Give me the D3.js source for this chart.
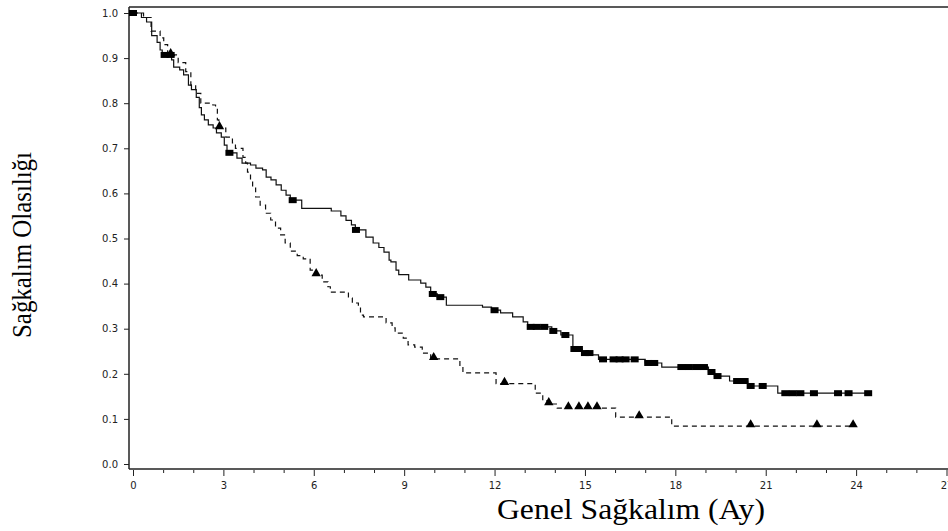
<!DOCTYPE html>
<html>
<head>
<meta charset="utf-8">
<script src="https://cdn.jsdelivr.net/npm/d3@7"></script>
<style>
  body { margin: 0; background: #fff; }
  svg { display: block; }
  .tick text { font-family: "DejaVu Sans", sans-serif; font-size: 10px; fill: #222; }
  .title { font-family: "Liberation Serif", "Times New Roman", serif; fill: #000; }
</style>
</head>
<body>
<div class="plot"></div>
<script>
// group 1 (solid, squares): step times and survival after each step
const g1Time = [0.28, 0.45, 0.62, 0.8, 0.9, 0.97, 1.28, 1.35, 1.55, 1.68, 1.84, 1.94, 2.1, 2.2, 2.27, 2.37, 2.5, 2.66, 2.77, 2.93,
  3.03, 3.12, 3.45, 3.62, 3.9, 4.08, 4.3, 4.42, 4.58, 4.75, 4.92, 5.08, 5.22, 5.6, 6.58, 6.9, 7.07, 7.25, 7.38, 7.73,
  7.97, 8.16, 8.33, 8.5, 8.56, 8.73, 8.82, 9.15, 9.55, 9.72, 9.88, 10.1, 10.4, 11.6, 11.9, 12.2, 12.6, 12.95, 13.1, 13.9,
  14.2, 14.6, 14.9, 15.2, 15.45, 17.0, 17.55, 19.1, 19.3, 19.8, 20.4, 21.4]
const g1Surv = [0.99, 0.98, 0.95, 0.935, 0.918, 0.907, 0.896, 0.88, 0.874, 0.863, 0.84, 0.83, 0.813, 0.79, 0.774, 0.763, 0.752, 0.745, 0.734, 0.725,
  0.707, 0.69, 0.678, 0.667, 0.663, 0.656, 0.652, 0.636, 0.63, 0.619, 0.607, 0.596, 0.585, 0.567, 0.561, 0.55, 0.54, 0.53, 0.519, 0.503,
  0.49, 0.48, 0.47, 0.452, 0.448, 0.43, 0.42, 0.408, 0.401, 0.392, 0.377, 0.37, 0.352, 0.348, 0.341, 0.335, 0.326, 0.315, 0.304, 0.295,
  0.286, 0.255, 0.246, 0.242, 0.232, 0.224, 0.215, 0.204, 0.195, 0.184, 0.173, 0.157]
const g1End = 24.5
const g1Censor = [0, 1.05, 1.25, 3.2, 5.3, 7.4, 9.95, 10.2, 12.0, 13.2, 13.4, 13.65, 13.95, 14.35, 14.65, 14.8, 15.0, 15.15,
  15.6, 15.95, 16.15, 16.35, 16.65, 17.1, 17.3, 18.2, 18.45, 18.7, 18.95, 19.2, 19.4, 20.05, 20.3, 20.5, 20.9,
  21.65, 21.9, 22.15, 22.6, 23.4, 23.75, 24.4]

// group 2 (dashed, triangles)
const g2Time = [0.35, 0.6, 0.9, 1.02, 1.15, 1.5, 1.75, 1.92, 2.08, 2.25, 2.65, 2.74, 2.8, 2.85, 3.08, 3.3, 3.4, 3.65, 3.74, 3.8,
  3.9, 3.97, 4.07, 4.22, 4.4, 4.57, 4.73, 4.9, 5.05, 5.22, 5.45, 5.65, 5.88, 6.03, 6.28, 6.47, 6.55, 7.15, 7.28, 7.48,
  7.55, 7.65, 8.4, 8.6, 8.7, 8.97, 9.13, 9.35, 9.6, 9.88, 10.85, 10.95, 12.05, 13.35, 13.6, 13.78, 14.08, 16.02, 17.88]
const g2Surv = [0.99, 0.96, 0.945, 0.93, 0.907, 0.89, 0.87, 0.84, 0.822, 0.80, 0.796, 0.79, 0.763, 0.745, 0.725, 0.712, 0.70, 0.68, 0.667, 0.647,
  0.63, 0.612, 0.592, 0.574, 0.556, 0.541, 0.523, 0.508, 0.49, 0.472, 0.462, 0.455, 0.43, 0.419, 0.404, 0.393, 0.381, 0.368, 0.357, 0.348,
  0.33, 0.326, 0.313, 0.302, 0.29, 0.279, 0.264, 0.259, 0.246, 0.233, 0.215, 0.202, 0.178, 0.157, 0.14, 0.133, 0.124, 0.104, 0.084]
const g2End = 23.9
const g2Censor = [1.25, 2.87, 6.08, 9.98, 12.33, 13.8, 14.45, 14.8, 15.1, 15.4, 16.8, 20.5, 22.7, 23.9]

const xMajor = [0, 3, 6, 9, 12, 15, 18, 21, 24, 27]
const xMinor = d3.range(0, 28, 1)
const yTicks = [0, 0.1, 0.2, 0.3, 0.4, 0.5, 0.6, 0.7, 0.8, 0.9, 1.0]
const xTitle = "Genel Sağkalım (Ay)"
const yTitle = "Sağkalım Olasılığı"

let width = 948, height = 531
let svg = d3.select(".plot").append("svg")
            .attr("width", width)
            .attr("height", height)

let xScale = d3.scaleLinear().domain([0, 27]).range([133, 946.5])
let yScale = d3.scaleLinear().domain([0, 1]).range([464, 13])

// step points for a KM curve
function steps(times, surv, end){
  let pts = [[0, 1]]
  times.forEach(function(t, i){ pts.push([t, surv[i]]) })
  pts.push([end, surv[surv.length - 1]])
  return pts
}
function survAt(times, surv, t){
  let s = 1
  times.forEach(function(tt, i){ if(tt <= t) s = surv[i] })
  return s
}

// frame: top line, left axis, bottom axis
svg.append("line")
   .attr("x1", 129).attr("x2", width)
   .attr("y1", 7).attr("y2", 7)
   .attr("stroke", "#222").attr("stroke-width", 1.5)

let yAxis = d3.axisLeft(yScale)
              .tickValues(yTicks)
              .tickFormat(d3.format(".1f"))
              .tickSize(5)
              .tickPadding(6)
svg.append("g")
   .attr("transform", "translate(129,0)")
   .call(yAxis)
   .call(g => g.select(".domain").remove())
   .call(g => g.selectAll(".tick line").attr("stroke", "#222"))
svg.append("line")
   .attr("x1", 129).attr("x2", 129)
   .attr("y1", 7).attr("y2", 469)
   .attr("stroke", "#222").attr("stroke-width", 1.5)

// bottom axis
svg.append("line")
   .attr("x1", 129).attr("x2", width)
   .attr("y1", 469).attr("y2", 469)
   .attr("stroke", "#222").attr("stroke-width", 1.5)
let xAxisMinor = d3.axisBottom(xScale)
                   .tickValues(xMinor.filter(d => d % 3 != 0))
                   .tickFormat("")
                   .tickSize(3)
svg.append("g")
   .attr("transform", "translate(0,470)")
   .call(xAxisMinor)
   .call(g => g.select(".domain").remove())
   .call(g => g.selectAll(".tick line").attr("stroke", "#222"))
let xAxis = d3.axisBottom(xScale)
              .tickValues(xMajor)
              .tickFormat(d3.format("d"))
              .tickSize(6)
              .tickPadding(6)
svg.append("g")
   .attr("transform", "translate(0,470)")
   .call(xAxis)
   .call(g => g.select(".domain").remove())
   .call(g => g.selectAll(".tick line").attr("stroke", "#222"))

// curves
let line = d3.line()
             .x(d => xScale(d[0]))
             .y(d => yScale(d[1]))
             .curve(d3.curveStepAfter)
svg.append("path")
   .datum(steps(g2Time, g2Surv, g2End))
   .attr("d", line)
   .attr("fill", "none")
   .attr("stroke", "#111")
   .attr("stroke-width", 1.2)
   .attr("stroke-dasharray", "5,4")
svg.append("path")
   .datum(steps(g1Time, g1Surv, g1End))
   .attr("d", line)
   .attr("fill", "none")
   .attr("stroke", "#111")
   .attr("stroke-width", 1.2)

// censor marks
svg.selectAll(".sq")
   .data(g1Censor)
   .enter()
   .append("rect")
   .attr("class", "sq")
   .attr("x", d => xScale(d) - 4)
   .attr("y", d => yScale(survAt(g1Time, g1Surv, d)) - 3)
   .attr("width", 8)
   .attr("height", 6)
   .attr("fill", "#000")
let tri = d3.symbol().type(d3.symbolTriangle).size(38)
svg.selectAll(".tri")
   .data(g2Censor)
   .enter()
   .append("path")
   .attr("class", "tri")
   .attr("d", tri)
   .attr("transform", d => "translate(" + xScale(d) + "," + (yScale(survAt(g2Time, g2Surv, d)) - 1.5) + ")")
   .attr("fill", "#000")

// titles
svg.append("text")
   .attr("class", "title")
   .attr("x", 497)
   .attr("y", 519)
   .attr("font-size", 30)
   .attr("textLength", 268)
   .attr("lengthAdjust", "spacingAndGlyphs")
   .text(xTitle)
svg.append("text")
   .attr("class", "title")
   .attr("transform", "translate(31,338) rotate(-90)")
   .attr("font-size", 27)
   .attr("textLength", 186)
   .attr("lengthAdjust", "spacingAndGlyphs")
   .text(yTitle)
</script>
</body>
</html>
